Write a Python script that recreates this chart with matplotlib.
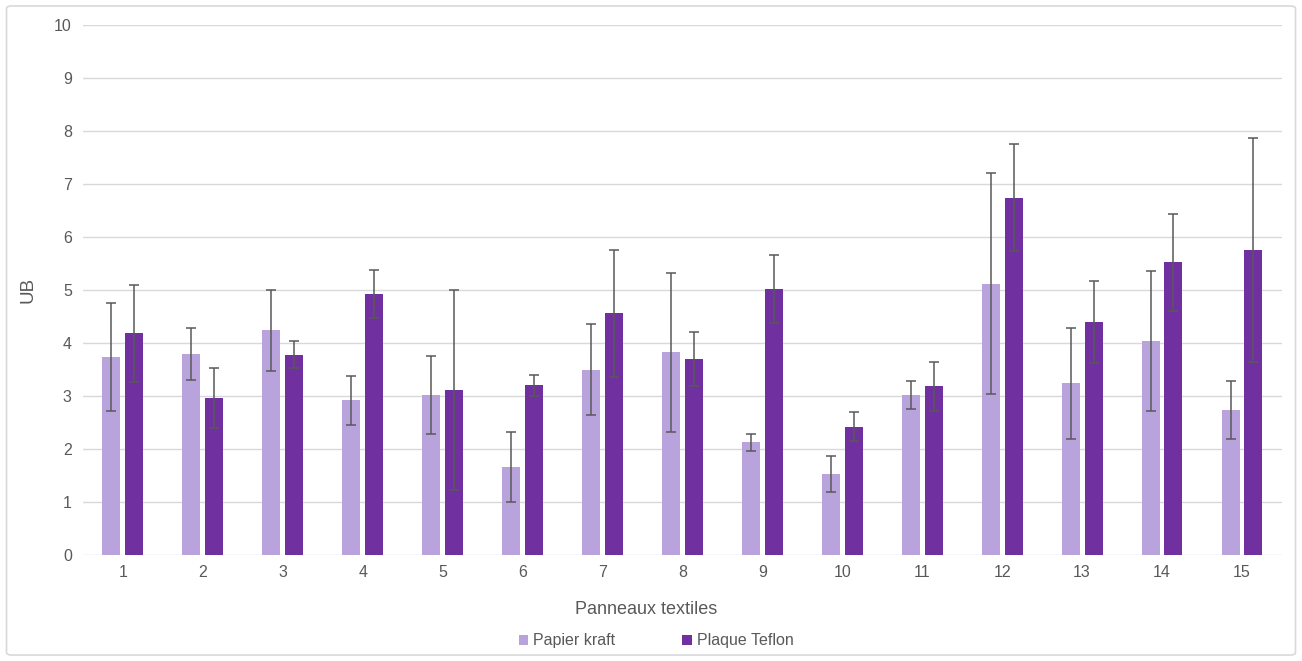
import matplotlib.pyplot as plt
import numpy
from matplotlib.patches import FancyBboxPatch

panneaux = [str(i) for i in range(1, 16)]
kraft = [3.74, 3.80, 4.24, 2.92, 3.02, 1.66, 3.50, 3.83, 2.13, 1.53, 3.02, 5.12, 3.24, 4.04, 2.74]
kraft_err = [1.02, 0.49, 0.76, 0.46, 0.74, 0.66, 0.85, 1.50, 0.16, 0.34, 0.27, 2.08, 1.05, 1.32, 0.55]
teflon = [4.18, 2.96, 3.78, 4.92, 3.12, 3.20, 4.56, 3.70, 5.02, 2.42, 3.18, 6.74, 4.40, 5.52, 5.76]
teflon_err = [0.92, 0.56, 0.25, 0.45, 1.89, 0.20, 1.20, 0.51, 0.64, 0.27, 0.46, 1.01, 0.77, 0.92, 2.11]

light = '#b9a3dd'
dark = '#7030a0'
grey = '#595959'
plt.rcParams['font.family'] = ['Liberation Sans', 'DejaVu Sans']

fig = plt.figure(figsize=(13.02, 6.61), dpi=100)
fig.patches.append(FancyBboxPatch((0.005, 0.009), 0.99, 0.982, boxstyle='round,pad=0,rounding_size=0.004',
                                  transform=fig.transFigure, fill=False, edgecolor='#d9d9d9', lw=1.2))
ax = fig.add_axes([0.0637, 0.1604, 0.9209, 0.8016])

x = numpy.arange(1, 16)
w = 0.225
errkw = dict(ecolor=grey, elinewidth=1.1, capsize=3.5, capthick=1.1)
ax.bar(x - 0.143, kraft, w, color=light, yerr=kraft_err, error_kw=errkw, label='Papier kraft', zorder=2)
ax.bar(x + 0.143, teflon, w, color=dark, yerr=teflon_err, error_kw=errkw, label='Plaque Teflon', zorder=2)

ax.set_xlim(0.5, 15.5)
ax.set_ylim(0, 10)
ax.set_yticks(range(0, 11))
ax.set_xticks(x)
ax.set_xticklabels(panneaux)
ax.grid(axis='y', color='#d9d9d9', lw=1, zorder=0)
ax.set_axisbelow(True)
for s in ax.spines.values():
    s.set_visible(False)
ax.tick_params(length=0, labelsize=11.5, colors=grey, pad=7)
ax.tick_params(axis='y', pad=8)
ax.set_ylabel('UB', fontsize=13.5, color=grey)
ax.set_xlabel('Panneaux textiles', fontsize=13, color=grey)
ax.xaxis.set_label_coords(0.47, -0.086)
ax.yaxis.set_label_coords(-0.039, 0.5)

ax.legend(loc='center', bbox_to_anchor=(0.478, -0.162), ncol=2, frameon=False,
          fontsize=11.5, labelcolor=grey, handlelength=0.6, handleheight=0.6,
          handletextpad=0.3, columnspacing=4.2)

fig.savefig('out.png', dpi=100)
plt.close()
